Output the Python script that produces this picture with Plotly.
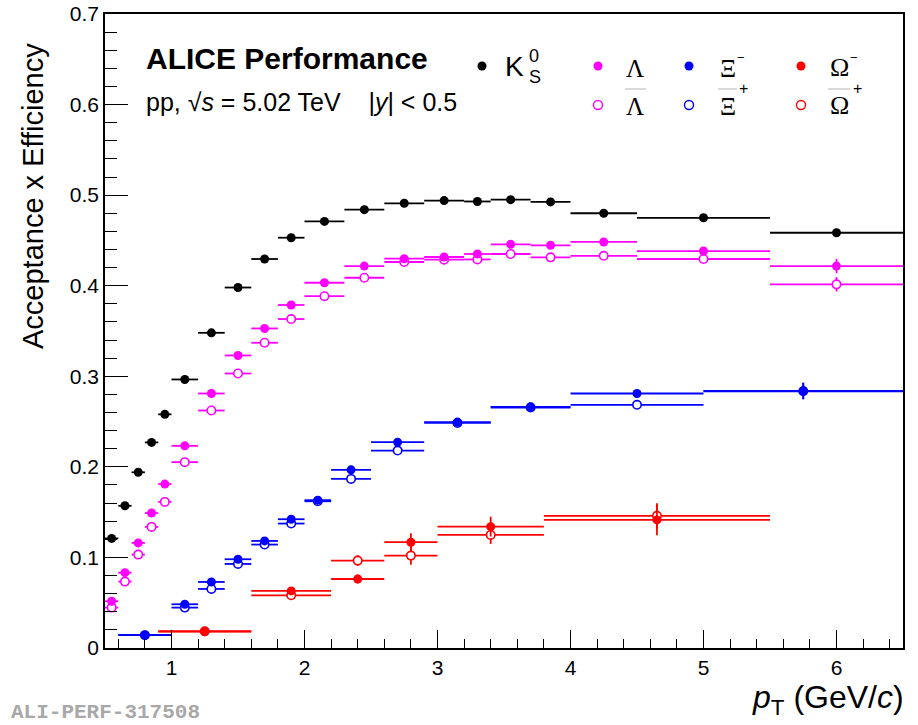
import numpy as np
import plotly.graph_objects as go

# ---------------- data ----------------
# pT bin edges (GeV/c)
k0s_lambda_edges = [0.5, 0.6, 0.7, 0.8, 0.9, 1.0, 1.2, 1.4, 1.6, 1.8, 2.0,
                    2.3, 2.6, 2.9, 3.2, 3.4, 3.7, 4.0, 4.5, 5.5, 6.5]
xi_edges = [0.6, 1.0, 1.2, 1.4, 1.6, 1.8, 2.0, 2.2, 2.5, 2.9, 3.4, 4.0, 5.0, 6.5]
omega_edges = [0.9, 1.6, 2.2, 2.6, 3.0, 3.8, 5.5]

# acceptance x efficiency values and statistical uncertainties
k0s_eff = [0.121, 0.157, 0.194, 0.227, 0.258, 0.2965, 0.348, 0.398, 0.4295, 0.453,
           0.471, 0.484, 0.491, 0.494, 0.493, 0.495, 0.4925, 0.480, 0.475, 0.4585]
k0s_err = [0.001, 0.001, 0.001, 0.001, 0.001, 0.001, 0.001, 0.001, 0.001, 0.001,
           0.001, 0.001, 0.001, 0.001, 0.002, 0.002, 0.002, 0.002, 0.002, 0.003]

lambda_eff = [0.0516, 0.0832, 0.116, 0.149, 0.181, 0.2232, 0.281, 0.323, 0.3528, 0.3787,
              0.4033, 0.4217, 0.4298, 0.4317, 0.435, 0.4457, 0.4446, 0.4483, 0.4383, 0.4217]
lambda_err = [0.002, 0.002, 0.002, 0.002, 0.002, 0.002, 0.002, 0.002, 0.002, 0.002,
              0.002, 0.002, 0.002, 0.002, 0.003, 0.003, 0.003, 0.004, 0.004, 0.008]

antilambda_eff = [0.0446, 0.0733, 0.1031, 0.1337, 0.1613, 0.2052, 0.2622, 0.3031, 0.337, 0.3632,
                  0.3884, 0.4088, 0.4262, 0.4287, 0.429, 0.435, 0.4313, 0.433, 0.4295, 0.4015]
antilambda_err = [0.002, 0.002, 0.002, 0.002, 0.002, 0.002, 0.002, 0.002, 0.002, 0.002,
                  0.002, 0.002, 0.002, 0.002, 0.003, 0.003, 0.003, 0.004, 0.004, 0.008]

xi_eff = [0.0144, 0.0483, 0.0729, 0.098, 0.1182, 0.1422, 0.1632, 0.1967, 0.2273,
          0.2494, 0.2663, 0.281, 0.284]
xi_err = [0.001, 0.002, 0.002, 0.002, 0.002, 0.002, 0.002, 0.003, 0.003,
          0.003, 0.003, 0.004, 0.009]

antixi_eff = [0.0142, 0.0446, 0.0652, 0.0928, 0.1142, 0.1374, 0.162, 0.1867, 0.218,
              0.2485, 0.2655, 0.2685, 0.2835]
antixi_err = [0.001, 0.002, 0.002, 0.002, 0.002, 0.002, 0.002, 0.003, 0.003,
              0.003, 0.003, 0.004, 0.009]

omega_eff = [0.018, 0.063, 0.0762, 0.1168, 0.134, 0.1414]
omega_err = [0.003, 0.004, 0.005, 0.010, 0.011, 0.017]

antiomega_eff = [0.0185, 0.0582, 0.0965, 0.102, 0.1249, 0.1459]
antiomega_err = [0.003, 0.004, 0.006, 0.010, 0.010, 0.014]

# ---------------- geometry helpers ----------------
W, H = 918, 725
ML, MR, MT, MB = 105, 15, 14, 77
PW, PH = W - ML - MR, H - MT - MB


def paper(px, py):
    """Convert page pixel position to paper coordinates."""
    return (px - ML) / PW, (H - MB - py) / PH


def bins(edges):
    e = np.asarray(edges, dtype=float)
    return (e[:-1] + e[1:]) / 2, (e[1:] - e[:-1]) / 2


SANS = "Liberation Sans"
SERIF = "Liberation Serif"

fig = go.Figure()


def add_series(edges, vals, errs, color, filled, name):
    x, hw = bins(edges)
    fig.add_trace(go.Scatter(
        x=x, y=vals, mode="markers", name=name, showlegend=False,
        marker=dict(symbol="circle", size=9 if filled else 8.4,
                    color=color if filled else "#ffffff",
                    line=dict(color=color, width=0 if filled else 1.6)),
        error_x=dict(type="data", array=hw, symmetric=True, color=color,
                     thickness=1.8, width=0),
        error_y=dict(type="data", array=errs, symmetric=True, color=color,
                     thickness=1.8, width=0),
    ))


add_series(k0s_lambda_edges, k0s_eff, k0s_err, "#000000", True, "K0S")
add_series(k0s_lambda_edges, antilambda_eff, antilambda_err, "#ff00ff", False, "anti-Lambda")
add_series(k0s_lambda_edges, lambda_eff, lambda_err, "#ff00ff", True, "Lambda")
add_series(xi_edges, antixi_eff, antixi_err, "#0000ff", False, "anti-Xi")
add_series(xi_edges, xi_eff, xi_err, "#0000ff", True, "Xi")
add_series(omega_edges, antiomega_eff, antiomega_err, "#ff0000", False, "anti-Omega")
add_series(omega_edges, omega_eff, omega_err, "#ff0000", True, "Omega")

annotations = []
shapes = []


def text(px, py, s, size, family=SANS, xanchor="left", yanchor="middle",
         color="#000000", angle=0):
    x, y = paper(px, py)
    annotations.append(dict(
        x=x, y=y, xref="paper", yref="paper", text=s, showarrow=False,
        xanchor=xanchor, yanchor=yanchor, textangle=angle,
        font=dict(family=family, size=size, color=color), borderpad=0))


# header text
text(145, 58, "<b>ALICE Performance</b>", 30)
text(145, 102, "pp, √<i>s</i> = 5.02 TeV    |<i>y</i>| &lt; 0.5", 25)

# axis titles
text(33, 196, "Acceptance x Efficiency", 29, xanchor="center", angle=-90)
text(905, 699, "<i>p</i><sub>T</sub> (GeV/<i>c</i>)", 32, xanchor="right")

# watermark id
text(10, 725, "<b>ALI-PERF-317508</b>", 21, family="Liberation Mono",
     yanchor="bottom", color="#a8a8a8")


# legend keys
def key(px, py, color, filled, r=4.5):
    x, y = paper(px, py)
    shapes.append(dict(
        type="circle", xref="paper", yref="paper", xsizemode="pixel", ysizemode="pixel",
        xanchor=x, yanchor=y, x0=-r, x1=r, y0=-r, y1=r,
        fillcolor=color if filled else "rgba(0,0,0,0)",
        line=dict(color=color, width=0 if filled else 1.4)))


def overline(px0, px1, py):
    x0, y0 = paper(px0, py)
    x1, _ = paper(px1, py)
    shapes.append(dict(type="line", xref="paper", yref="paper",
                       x0=x0, x1=x1, y0=y0, y1=y0,
                       line=dict(color="#b4b4b4", width=1)))


row1, row2 = 66, 105
key(482, row1, "#000000", True)
key(598, row1, "#ff00ff", True)
key(598, row2, "#ff00ff", False)
key(689, row1, "#0000ff", True)
key(689, row2, "#0000ff", False)
key(801, row1, "#ff0000", True)
key(801, row2, "#ff0000", False)

text(514, 66, "K", 28, xanchor="center")
text(534, 56, "0", 18, xanchor="center")
text(535, 77, "S", 18, xanchor="center")

text(635, 68, "Λ", 25, family=SERIF, xanchor="center")
text(635, 107, "Λ", 25, family=SERIF, xanchor="center")
overline(625, 646, 89)

text(728, 68, "Ξ", 25, family=SERIF, xanchor="center")
text(741, 57, "−", 13, xanchor="center")
text(728, 107, "Ξ", 25, family=SERIF, xanchor="center")
text(743, 88, "+", 16, xanchor="center")
overline(718, 737, 89)

text(839, 67, "Ω", 26, family=SERIF, xanchor="center")
text(854, 57, "−", 13, xanchor="center")
text(839, 106, "Ω", 26, family=SERIF, xanchor="center")
text(857, 88, "+", 16, xanchor="center")
overline(828, 850, 89)

axis_common = dict(
    showgrid=False, zeroline=False, showline=True, linecolor="#000000",
    linewidth=1.5, mirror=True, ticks="inside", tickcolor="#000000",
    tickwidth=1.3, automargin=False,
    tickfont=dict(family=SANS, size=21, color="#000000"),
)

fig.update_layout(
    width=W, height=H,
    margin=dict(l=ML, r=MR, t=MT, b=MB, pad=0, autoexpand=False),
    paper_bgcolor="#ffffff", plot_bgcolor="#ffffff",
    showlegend=False,
    xaxis=dict(range=[0.5, 6.5], tick0=0, dtick=1, ticklen=18,
               minor=dict(tick0=0, dtick=0.2, ticklen=9, ticks="inside",
                          tickcolor="#000000", tickwidth=1.3),
               **axis_common),
    yaxis=dict(range=[0, 0.7], tick0=0, dtick=0.1, ticklen=23,
               minor=dict(tick0=0, dtick=0.02, ticklen=12, ticks="inside",
                          tickcolor="#000000", tickwidth=1.3),
               **axis_common),
    annotations=annotations,
    shapes=shapes,
)

fig.write_html("out.html")
